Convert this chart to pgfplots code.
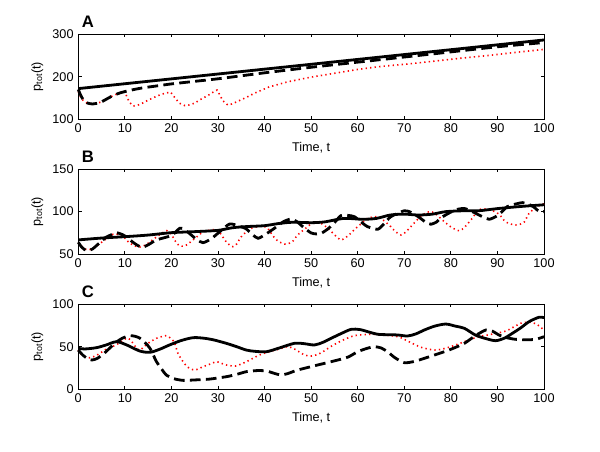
\documentclass[border=0pt]{standalone}
\usepackage{fontspec}
\setmainfont{Liberation Sans}
\usepackage{pgfplots}
\pgfplotsset{compat=1.18}
\definecolor{mred}{RGB}{255,0,0}
\pgfplotsset{
  myax/.style={
    scale only axis, width=349.3pt, height=64pt,
    anchor=south west,
    xmin=0, xmax=100, xtick={0,10,...,100},
    tick align=inside, tick pos=both,
    axis line style={line width=0.6pt},
    major tick length=2.6pt,
    tick style={black, line width=0.6pt},
    ticklabel style={font=\fontsize{9.5}{10}\selectfont},
    label style={font=\fontsize{9.5}{10}\selectfont},
    xlabel={Time, t},
    ylabel={p\textsubscript{tot}(t)},
    /pgf/number format/assume math mode=true,
    clip=false,
  },
  solidl/.style={black, line width=2.1pt},
  dashl/.style={black, line width=2.1pt, dash pattern=on 8pt off 4pt},
  dotl/.style={mred, line width=1.2pt, dash pattern=on 1pt off 2.4pt},
}
\newcommand{\panellabel}[1]{\node[anchor=base west, inner sep=0pt, font=\fontsize{12.5}{13}\selectfont\bfseries] at ([xshift=2.5pt, yshift=4.5pt]rel axis cs:0,1) {#1};}
\begin{document}
\begin{tikzpicture}
\useasboundingbox (0,0) rectangle (450pt,339pt);
% ---------------- Panel A ----------------
\begin{axis}[myax, at={(58.7pt,249.5pt)}, ymin=100, ymax=300, ytick={100,200,300}]
\addplot[dotl] coordinates {
(0,165) (0.5,153) (1,145) (1.5,140) (2,137.5) (3,136) (4,137.5) (5,141) (6,147) (7,153) (8,158) (9,162) (10,165)
(10.5,151) (11,140) (11.8,131) (13,134) (14,139) (15,145) (16,150) (17,155) (18,159) (19,162) (19.8,164)
(20.3,157) (21,147) (21.7,138) (22.9,132) (24,134) (25,138) (26,145) (27,151) (28,157) (29,164) (29.8,168.5)
(30.4,157) (31,144) (32.1,133.5) (33,136) (34,141) (36,151) (38,162) (41,176) (45,188) (50,199) (54,206)
(60,217) (65,224) (71,230) (77,237) (82,243) (88,249.5) (94,257) (100,264)
};
\addplot[dashl, smooth, tension=0.4] coordinates {
(0,170) (0.5,157) (1,147) (1.5,141) (2,138) (3,136) (4,137.5) (5,141) (6,147) (7,153) (8,158) (9,162) (10,165)
(12,170) (14,174) (16,177) (18,180) (20,183) (25,189) (30,195) (35,202) (40,209) (50,222) (60,234) (70,246)
(80,258) (90,270) (100,280)
};
\addplot[solidl] coordinates {(0,172) (100,286)};
\panellabel{A}
\end{axis}
% ---------------- Panel B ----------------
\begin{axis}[myax, at={(58.7pt,148.3pt)}, ymin=50, ymax=150, ytick={50,100,150}]
\addplot[dotl, smooth, tension=0.4] coordinates {
(0,63) (0.7,59.7) (1.5,56) (2.2,55) (3.5,58) (5,64) (6.5,70) (7.5,73.5) (8.5,73.5) (9.5,72)
(10.7,64.8) (12,60) (13.2,58.5) (14.5,61) (16,67) (17.5,73) (19,77.7) (20,73) (21,64) (21.8,59.7)
(23,60) (24,64) (25.8,72) (26.8,76.5) (28,78) (29.6,79) (30.3,76) (31,70.6) (32,63) (33.2,58.9)
(34,62) (35,70.6) (36.8,79.6) (39,83) (40,82.5) (40.7,80.5) (41.8,71.5) (43,65) (44.6,61.7) (46,65)
(47.1,72.6) (48.5,79) (49.7,84.3) (51.4,88) (52.5,85) (53.6,80.5) (55,73) (56.4,66.8) (58,72)
(59.6,80.5) (61,87) (62.1,92.2) (64.3,94) (65.5,90) (67.1,82.4) (68,77) (69.3,72.6) (70.3,76)
(71.4,82.4) (72.9,91) (74.8,99.2) (76,99.5) (77,96) (78.6,88.2) (80,82) (81.8,77.5) (83,82)
(84.6,92.2) (86,102) (88,103) (90.3,97.2) (91.7,88.2) (93.6,84.3) (94.8,85) (95.8,88) (96.8,98)
(98.5,105.8) (100,109)
};
\addplot[dashl, smooth, tension=0.4] coordinates {
(0,64) (0.8,58) (1.8,54.2) (3,56) (4.5,63) (6,70) (7.5,73.8) (8.2,75.3) (9.5,73) (10.4,70) (12,63)
(13.6,58.2) (15,61) (16.8,66.8) (20,72) (21.8,80.5) (22.8,79) (24,73.8) (25.5,67) (26.8,63.6) (28.5,68)
(30.4,76.5) (32.5,85.5) (34.5,83) (36,80) (37.5,72.6) (38.6,68.7) (40,72.6) (42,80) (44,88) (45.7,91.4)
(47,88) (48.6,80.5) (50,75) (51.1,73.8) (52.3,75) (53.6,79.7) (55,87) (56.4,95.3) (58,95.5) (59.3,94)
(60.7,88) (62.1,82.4) (64.3,79.3) (65.7,86) (67.1,94) (70,101) (71.5,99) (73,94) (74.5,88) (75.7,85.2)
(77,88) (77.8,92.4) (79.5,98) (81.4,102.7) (83,103.5) (84.6,100) (86.8,94) (88.2,91) (89.6,94) (91,100)
(92.1,105.8) (94,109) (95.4,110.5) (96.5,109) (97.7,105.8) (99,100) (100,100)
};
\addplot[solidl, smooth, tension=0.5] coordinates {
(0,66.8) (5,69) (10,70.6) (15,72.5) (20,75.3) (25,76.5) (30,78) (33,81) (36,82.4) (40,83.5) (43,86)
(46,87.5) (50,87) (53,88) (57,92) (61,91) (64,92) (67,96) (70,97) (73,96) (76,97) (79,100) (83,101)
(86,101) (90,103.5) (95,106) (100,108)
};
\panellabel{B}
\end{axis}
% ---------------- Panel C ----------------
\begin{axis}[myax, at={(58.7pt,47pt)}, ymin=0, ymax=100, ytick={0,50,100}]
\addplot[dotl, smooth, tension=0.4] coordinates {
(0,46) (0.4,42.2) (1.5,38) (2.5,37) (4,40) (6,47) (8.1,52) (9.5,57) (10.4,60) (11.2,58) (12.7,47)
(13.5,47) (15,54) (16.8,59.8) (18.9,62.9) (20,59) (20.6,55.8) (21.4,42.2) (22.5,32.4) (23.5,26)
(25,22.6) (26.8,26.5) (28.5,30) (29.6,32.4) (30.5,31) (31.8,28.5) (33.8,27.3) (36.1,32.4) (38.9,40.2)
(41,44.1) (43,47) (45,50) (46.5,47) (48.6,40.2) (50,39) (51.5,41) (52.8,45) (54.5,51) (56.4,56.6)
(59.3,62.9) (63.6,64.5) (68.6,61.7) (70.7,56.6) (73.6,49.2) (76.4,46) (78,47) (80,50) (82.9,55.8)
(85.5,61) (87.9,63.7) (91.8,68.3) (95,77.4) (97.1,78.6) (98.5,76) (100,69.5)
};
\addplot[dashl, smooth, tension=0.4] coordinates {
(0,46) (1,40) (2,36) (2.9,34.3) (4,36) (5.3,41) (6.5,47) (8.1,55) (9.5,60) (11.1,62.9) (12.3,62)
(13.2,60) (14.3,55) (15.4,48) (16.8,32.4) (18,23) (18.9,16.8) (20.5,12.5) (22.5,10.5) (25,11)
(28.2,12) (31.8,14.8) (34,17.5) (36.1,20.7) (38.5,22) (40.4,21.5) (42.1,18.7) (43.5,16.8) (45,18.5)
(47.1,22.6) (51.4,28.5) (55.7,34.3) (58,38) (60,44.1) (62,48) (63.6,50) (65,48.5) (66.4,44.1) (68,37)
(70,31.2) (72,32.5) (74.3,36.3) (78.6,44.1) (80.5,48) (82.9,53.9) (85.3,63) (87.5,69.5) (89,68)
(90.3,63.7) (92,60.5) (93.9,58.6) (96.8,58) (98.5,59) (100,61.7)
};
\addplot[solidl, smooth, tension=0.5] coordinates {
(0,48) (1.4,47.3) (3.9,48.8) (6,52) (8.2,55.8) (10.4,52) (13.2,44.9) (15.4,43.4) (17.5,47) (19.6,52)
(22,57) (24.6,60.5) (26.8,60) (29,58) (31.8,53.9) (34,50) (36.1,46) (38,44.5) (40.4,44.1) (42.9,48)
(46.4,53.9) (48.5,53.5) (50.7,52) (52.5,55) (54.3,59.8) (56.5,65.5) (58.6,70.3) (60.5,70) (62.5,67)
(64.3,64.5) (66.5,64) (68.6,63.7) (70.7,62.5) (72.5,65) (74.3,69.5) (76.5,74) (78.9,76.5) (81,74)
(82.9,71.5) (85.3,63.5) (87.5,59.5) (89.6,57) (91.5,60) (93.2,65.6) (95,72) (96.8,79.3) (98.9,84.4)
(100,84)
};
\panellabel{C}
\end{axis}
\end{tikzpicture}
\end{document}
